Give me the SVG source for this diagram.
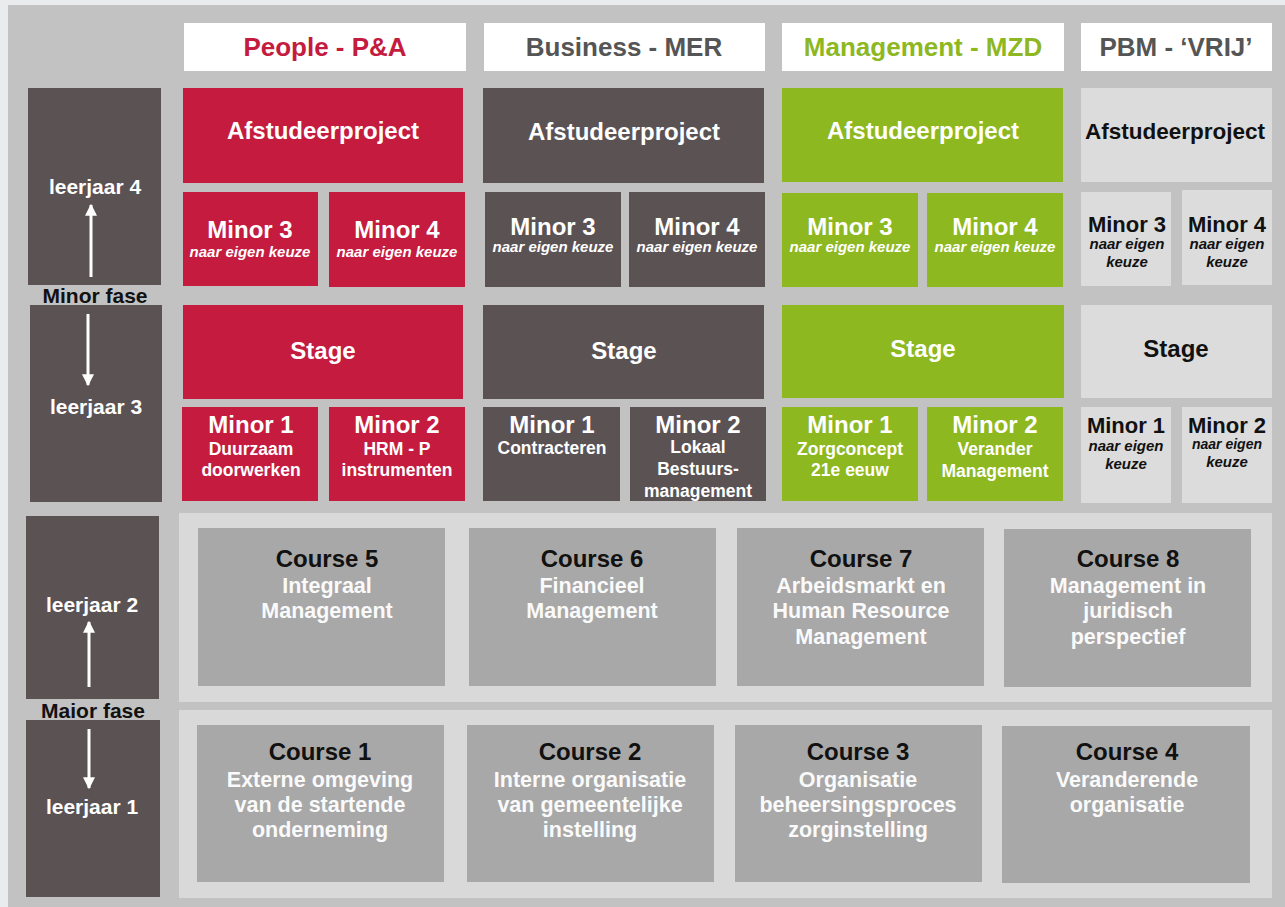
<svg xmlns="http://www.w3.org/2000/svg" width="1285" height="907" viewBox="0 0 1285 907">
<defs>
<marker id="ah" markerWidth="4" markerHeight="4" refX="3.6" refY="2" orient="auto" markerUnits="strokeWidth">
<path d="M0,0 L4,2 L0,4 z" fill="#fff"/>
</marker>
<style>
text{font-family:"Liberation Sans",Arial,sans-serif;font-weight:bold;text-anchor:middle}
.red{fill:#c41b3f}.dark{fill:#5b5254}.green{fill:#8db81f}.pale{fill:#dcdcdc}.hdr{fill:#fff}
.course{fill:#a8a8a8}.panel{fill:#d9d9d9}
.th{font-size:26px}
.tb{font-size:24px}
.ts{font-size:17.5px}
.ti{font-size:15px;font-style:italic}
.w{fill:#fff}.k{fill:#111}
.tct{font-size:24px;fill:#111}
.tcs{font-size:21.5px;fill:#fafafa}
.tyr{font-size:21px;fill:#fff}
.tph{font-size:21px;fill:#111}
.arr{stroke:#fff;stroke-width:3;fill:none;marker-end:url(#ah)}
</style>
</defs>
<rect x="0" y="0" width="1285" height="907" fill="#eaebec"/>
<rect x="8" y="5" width="1277" height="902" fill="#c2c2c2"/>

<!-- headers -->
<g id="hdr-people"><rect class="hdr" x="184" y="23" width="282" height="48"/><text class="th" x="325" y="56" fill="#c41b3f">People - P&amp;A</text></g>
<g id="hdr-business"><rect class="hdr" x="484" y="23" width="281" height="48"/><text class="th" x="624" y="56" fill="#555">Business - MER</text></g>
<g id="hdr-management"><rect class="hdr" x="782" y="23" width="282" height="48"/><text class="th" x="923" y="56" fill="#8db81f">Management - MZD</text></g>
<g id="hdr-pbm"><rect class="hdr" x="1081" y="23" width="191" height="48"/><text class="th" x="1176" y="56" fill="#555">PBM - ‘VRIJ’</text></g>

<!-- year column -->
<g id="yr4"><rect class="dark" x="28" y="88" width="133" height="197"/><text class="tyr" x="95" y="194">leerjaar 4</text></g>
<g id="yr3"><rect class="dark" x="30" y="305" width="132" height="197"/><text class="tyr" x="96" y="414">leerjaar 3</text></g>
<g id="yr2"><rect class="dark" x="26" y="516" width="133" height="183"/><text class="tyr" x="92" y="612">leerjaar 2</text></g>
<g id="yr1"><rect class="dark" x="26" y="720" width="134" height="177"/><text class="tyr" x="92" y="814">leerjaar 1</text></g>
<g id="minor-fase"><text class="tph" x="95" y="303">Minor fase</text></g>
<g id="maior-fase"><text class="tph" x="93" y="718">Maior fase</text></g>

<g id="connectors">
<line class="arr" x1="91" y1="277" x2="91" y2="205"/>
<line class="arr" x1="88" y1="314" x2="88" y2="385"/>
<line class="arr" x1="89" y1="687" x2="89" y2="622"/>
<line class="arr" x1="89" y1="729" x2="89" y2="788"/>
</g>

<!-- People column -->
<g id="pa-afstudeer"><rect class="red" x="183" y="88" width="280" height="95"/><text class="tb w" x="323" y="139">Afstudeerproject</text></g>
<g id="pa-minor3"><rect class="red" x="183" y="192" width="135" height="94"/><text class="tb w" x="250" y="238">Minor 3</text><text class="ti w" x="250" y="257">naar eigen keuze</text></g>
<g id="pa-minor4"><rect class="red" x="329" y="192" width="136" height="95"/><text class="tb w" x="397" y="238">Minor 4</text><text class="ti w" x="397" y="257">naar eigen keuze</text></g>
<g id="pa-stage"><rect class="red" x="183" y="305" width="280" height="94"/><text class="tb w" x="323" y="359">Stage</text></g>
<g id="pa-minor1"><rect class="red" x="182" y="407" width="136" height="94"/><text class="tb w" x="251" y="433">Minor 1</text><text class="ts w" x="251" y="455">Duurzaam</text><text class="ts w" x="251" y="476">doorwerken</text></g>
<g id="pa-minor2"><rect class="red" x="329" y="407" width="136" height="94"/><text class="tb w" x="397" y="433">Minor 2</text><text class="ts w" x="397" y="455">HRM - P</text><text class="ts w" x="397" y="476">instrumenten</text></g>

<!-- Business column -->
<g id="mer-afstudeer"><rect class="dark" x="483" y="88" width="281" height="95"/><text class="tb w" x="624" y="140">Afstudeerproject</text></g>
<g id="mer-minor3"><rect class="dark" x="485" y="192" width="136" height="95"/><text class="tb w" x="553" y="235">Minor 3</text><text class="ti w" x="553" y="252">naar eigen keuze</text></g>
<g id="mer-minor4"><rect class="dark" x="629" y="192" width="136" height="95"/><text class="tb w" x="697" y="235">Minor 4</text><text class="ti w" x="697" y="252">naar eigen keuze</text></g>
<g id="mer-stage"><rect class="dark" x="483" y="305" width="281" height="94"/><text class="tb w" x="624" y="359">Stage</text></g>
<g id="mer-minor1"><rect class="dark" x="483" y="407" width="137" height="94"/><text class="tb w" x="552" y="433">Minor 1</text><text class="ts w" x="552" y="454">Contracteren</text></g>
<g id="mer-minor2"><rect class="dark" x="630" y="407" width="136" height="94"/><text class="tb w" x="698" y="433">Minor 2</text><text class="ts w" x="698" y="453">Lokaal</text><text class="ts w" x="698" y="475">Bestuurs-</text><text class="ts w" x="698" y="497">management</text></g>

<!-- Management column -->
<g id="mzd-afstudeer"><rect class="green" x="782" y="88" width="281" height="94"/><text class="tb w" x="923" y="139">Afstudeerproject</text></g>
<g id="mzd-minor3"><rect class="green" x="782" y="193" width="136" height="94"/><text class="tb w" x="850" y="235">Minor 3</text><text class="ti w" x="850" y="252">naar eigen keuze</text></g>
<g id="mzd-minor4"><rect class="green" x="927" y="193" width="136" height="94"/><text class="tb w" x="995" y="235">Minor 4</text><text class="ti w" x="995" y="252">naar eigen keuze</text></g>
<g id="mzd-stage"><rect class="green" x="782" y="305" width="282" height="93"/><text class="tb w" x="923" y="357">Stage</text></g>
<g id="mzd-minor1"><rect class="green" x="782" y="407" width="136" height="94"/><text class="tb w" x="850" y="433">Minor 1</text><text class="ts w" x="850" y="455">Zorgconcept</text><text class="ts w" x="850" y="476">21e eeuw</text></g>
<g id="mzd-minor2"><rect class="green" x="927" y="407" width="136" height="94"/><text class="tb w" x="995" y="433">Minor 2</text><text class="ts w" x="995" y="455">Verander</text><text class="ts w" x="995" y="477">Management</text></g>

<!-- PBM column -->
<g id="pbm-afstudeer"><rect class="pale" x="1081" y="88" width="191" height="94"/><text class="tb k" x="1175" y="139" style="font-size:22.5px">Afstudeerproject</text></g>
<g id="pbm-minor3"><rect class="pale" x="1081" y="192" width="90" height="94"/><text class="tb k" x="1127" y="232" style="font-size:22px">Minor 3</text><text class="ti k" x="1127" y="249">naar eigen</text><text class="ti k" x="1127" y="267">keuze</text></g>
<g id="pbm-minor4"><rect class="pale" x="1182" y="190" width="90" height="95"/><text class="tb k" x="1227" y="232" style="font-size:22px">Minor 4</text><text class="ti k" x="1227" y="249">naar eigen</text><text class="ti k" x="1227" y="267">keuze</text></g>
<g id="pbm-stage"><rect class="pale" x="1081" y="305" width="191" height="93"/><text class="tb k" x="1176" y="357">Stage</text></g>
<g id="pbm-minor1"><rect class="pale" x="1081" y="407" width="90" height="96"/><text class="tb k" x="1126" y="433" style="font-size:22px">Minor 1</text><text class="ti k" x="1126" y="451">naar eigen</text><text class="ti k" x="1126" y="469">keuze</text></g>
<g id="pbm-minor2"><rect class="pale" x="1182" y="407" width="90" height="96"/><text class="tb k" x="1227" y="433" style="font-size:22px">Minor 2</text><text class="ti k" x="1227" y="449" style="font-size:14px">naar eigen</text><text class="ti k" x="1227" y="467">keuze</text></g>

<!-- Major phase panels -->
<rect class="panel" x="179" y="513" width="1093" height="189"/>
<rect class="panel" x="179" y="710" width="1093" height="188"/>

<g id="course5"><rect class="course" x="198" y="528" width="247" height="158"/><text class="tct" x="327" y="567">Course 5</text><text class="tcs" x="327" y="593">Integraal</text><text class="tcs" x="327" y="618">Management</text></g>
<g id="course6"><rect class="course" x="469" y="528" width="247" height="158"/><text class="tct" x="592" y="567">Course 6</text><text class="tcs" x="592" y="593">Financieel</text><text class="tcs" x="592" y="618">Management</text></g>
<g id="course7"><rect class="course" x="737" y="528" width="247" height="158"/><text class="tct" x="861" y="567">Course 7</text><text class="tcs" x="861" y="593">Arbeidsmarkt en</text><text class="tcs" x="861" y="618">Human Resource</text><text class="tcs" x="861" y="644">Management</text></g>
<g id="course8"><rect class="course" x="1004" y="529" width="247" height="158"/><text class="tct" x="1128" y="567">Course 8</text><text class="tcs" x="1128" y="593">Management in</text><text class="tcs" x="1128" y="618">juridisch</text><text class="tcs" x="1128" y="644">perspectief</text></g>

<g id="course1"><rect class="course" x="197" y="725" width="247" height="157"/><text class="tct" x="320" y="760">Course 1</text><text class="tcs" x="320" y="787">Externe omgeving</text><text class="tcs" x="320" y="812">van de startende</text><text class="tcs" x="320" y="837">onderneming</text></g>
<g id="course2"><rect class="course" x="467" y="725" width="247" height="157"/><text class="tct" x="590" y="760">Course 2</text><text class="tcs" x="590" y="787">Interne organisatie</text><text class="tcs" x="590" y="812">van gemeentelijke</text><text class="tcs" x="590" y="837">instelling</text></g>
<g id="course3"><rect class="course" x="735" y="725" width="247" height="157"/><text class="tct" x="858" y="760">Course 3</text><text class="tcs" x="858" y="787">Organisatie</text><text class="tcs" x="858" y="812">beheersingsproces</text><text class="tcs" x="858" y="837">zorginstelling</text></g>
<g id="course4"><rect class="course" x="1002" y="726" width="248" height="157"/><text class="tct" x="1127" y="760">Course 4</text><text class="tcs" x="1127" y="787">Veranderende</text><text class="tcs" x="1127" y="812">organisatie</text></g>
</svg>
